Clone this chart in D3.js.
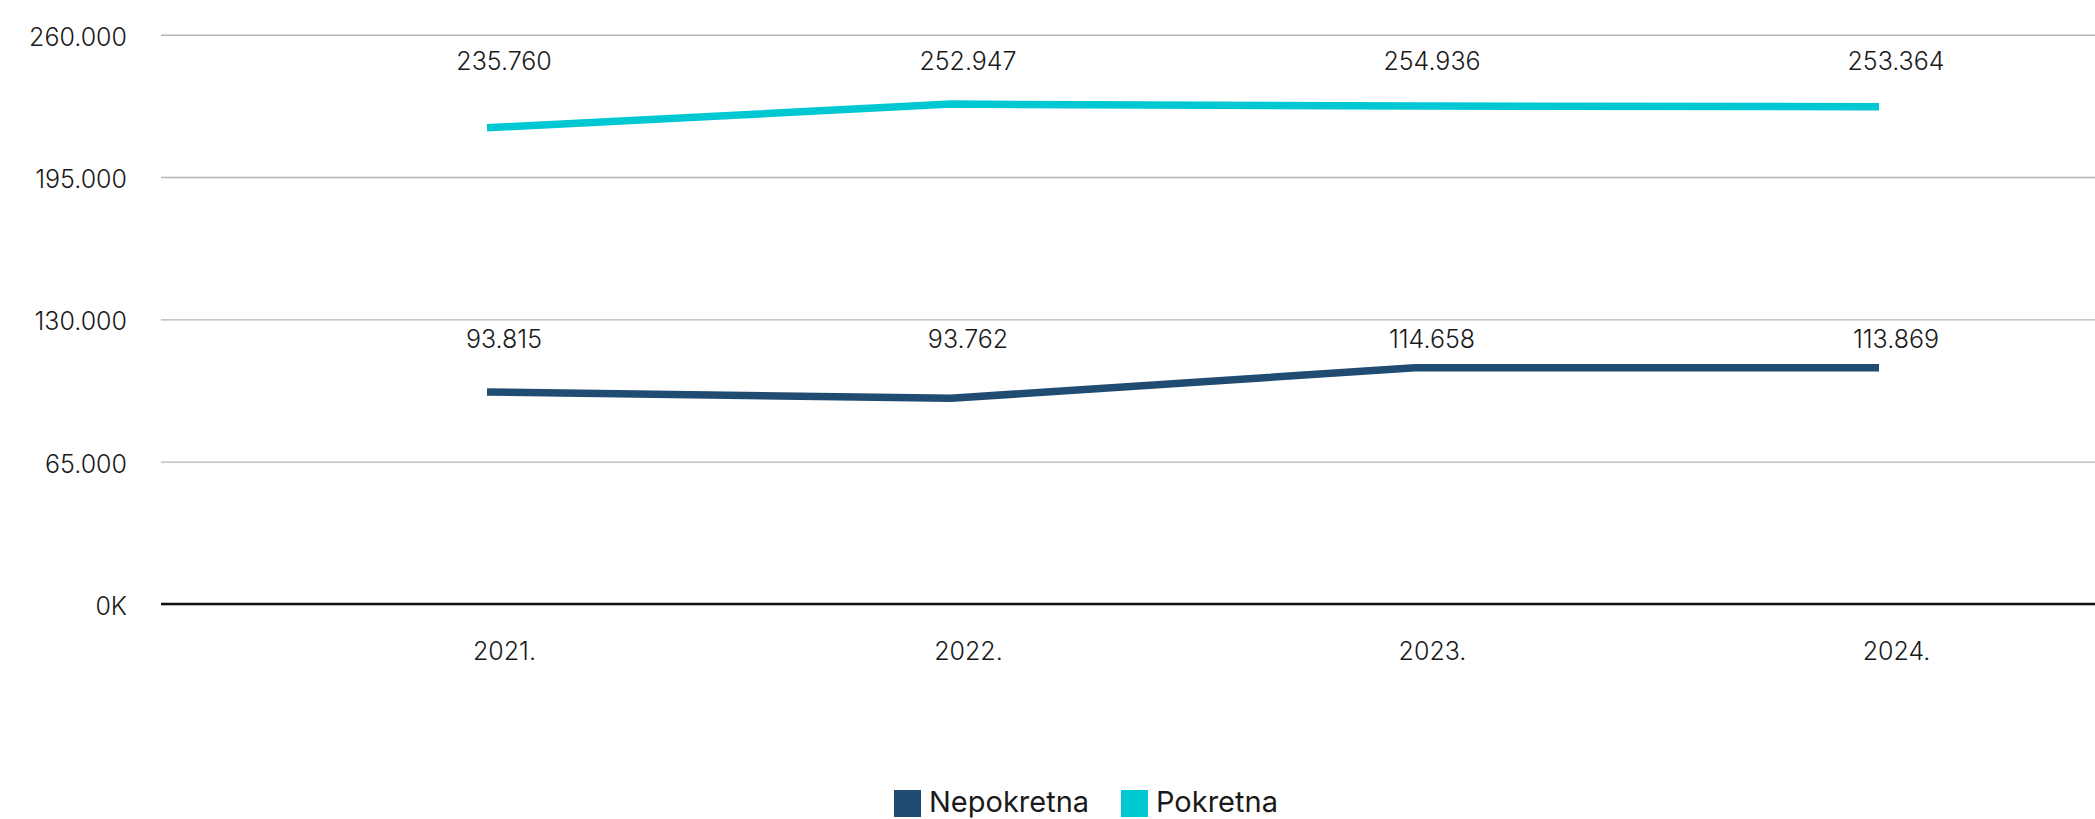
<!DOCTYPE html>
<html>
<head>
<meta charset="utf-8">
<script src="https://cdn.jsdelivr.net/npm/d3@7"></script>
<style>
  html, body { margin: 0; padding: 0; background: #fff; overflow: hidden; }
  svg { display: block; }
  text { font-family: Inter, "Open Sans", sans-serif; fill: #1a1a1a; }
</style>
</head>
<body>
<svg id="chart" width="2095" height="819"></svg>
<script>
// ---- data ----
const years = ["2021.", "2022.", "2023.", "2024."];
const seriesNames = ["Nepokretna", "Pokretna"];
const nepokretnaValues = [96800, 93950, 107900, 107900];     // line positions
const pokretnaValues   = [217500, 228300, 227400, 227100];
const nepokretnaLabels = ["93.815", "93.762", "114.658", "113.869"];
const pokretnaLabels   = ["235.760", "252.947", "254.936", "253.364"];
const yTicks = [0, 65000, 130000, 195000, 260000];
const colors = ["#214C72", "#00C8D3"];

// ---- layout ----
const W = 2095, H = 819;
const plotLeft = 161, plotRight = 2095;
const svg = d3.select("#chart");

const y = d3.scaleLinear().domain([0, 260000]).range([604, 34.7]);
const xLine = d3.scalePoint().domain(years).range([487, 1879]);
const xLab = d3.scalePoint().domain(years).range([504, 1896]);

const loc = d3.formatLocale({decimal: ",", thousands: ".", grouping: [3], currency: ["", ""]});
const fmt = loc.format(",d");

// gridlines + y labels
const yAxis = d3.axisLeft(y)
  .tickValues(yTicks)
  .tickSize(-(plotRight - plotLeft))
  .tickPadding(34)
  .tickFormat(d => d === 0 ? "0K" : fmt(d));
const gy = svg.append("g").attr("transform", `translate(${plotLeft},0)`).call(yAxis);
gy.select(".domain").remove();
gy.selectAll(".tick line").attr("stroke", "#b5b5b5").attr("stroke-width", 1.4);
gy.selectAll(".tick text").attr("font-size", 25).attr("font-weight", 300).attr("fill", "#1a1a1a").attr("dy", "0.42em");

// baseline
svg.append("line")
  .attr("x1", plotLeft).attr("x2", plotRight)
  .attr("y1", y(0)).attr("y2", y(0))
  .attr("stroke", "#111").attr("stroke-width", 2.5);

// x axis labels
const xAxis = d3.axisBottom(xLab).tickSize(0).tickPadding(0);
const gx = svg.append("g").attr("transform", `translate(0,${y(0)})`).call(xAxis);
gx.select(".domain").remove();
gx.selectAll(".tick text").attr("font-size", 25).attr("font-weight", 300).attr("fill", "#1a1a1a")
  .attr("y", 47).attr("dy", "0.36em");

// lines
const series = [
  {name: seriesNames[0], values: nepokretnaValues, labels: nepokretnaLabels, color: colors[0], labelY: 339},
  {name: seriesNames[1], values: pokretnaValues, labels: pokretnaLabels, color: colors[1], labelY: 61.2}
];
const line = d3.line().x((d, i) => xLine(years[i])).y(d => y(d));
series.forEach(s => {
  svg.append("path")
    .datum(s.values)
    .attr("d", line)
    .attr("fill", "none")
    .attr("stroke", s.color)
    .attr("stroke-width", 7.5)
    .attr("stroke-linejoin", "round");
  svg.append("g").selectAll("text")
    .data(s.labels)
    .join("text")
    .attr("x", (d, i) => xLab(years[i]))
    .attr("y", s.labelY)
    .attr("dy", "0.36em")
    .attr("text-anchor", "middle")
    .attr("font-size", 25)
    .attr("font-weight", 300)
    .text(d => d);
});

// legend
const leg = svg.append("g");
const legItems = [
  {name: seriesNames[0], color: colors[0], x: 894},
  {name: seriesNames[1], color: colors[1], x: 1121}
];
legItems.forEach(it => {
  leg.append("rect").attr("x", it.x).attr("y", 790).attr("width", 27).attr("height", 27).attr("fill", it.color);
  leg.append("text").attr("x", it.x + 35).attr("y", 812)
    .attr("font-size", 29).attr("font-weight", 400).text(it.name);
});
</script>
</body>
</html>
